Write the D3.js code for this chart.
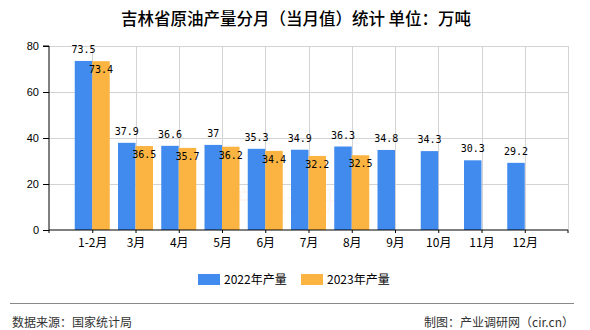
<!DOCTYPE html>
<html><head><meta charset="utf-8">
<script src="https://cdn.jsdelivr.net/npm/d3@7"></script>
<style>body{margin:0;background:#fff}svg{display:block}</style>
</head><body>
<script>
const categories = ["1-2月","3月","4月","5月","6月","7月","8月","9月","10月","11月","12月"];
const values2022 = [73.5,37.9,36.6,37,35.3,34.9,36.3,34.8,34.3,30.3,29.2];
const values2023 = [73.4,36.5,35.7,36.2,34.4,32.2,32.5,null,null,null,null];
const seriesNames = ["2022年产量","2023年产量"];
const yTicks = [0,20,40,60,80];
const colors = ["#418BEF","#FBB342"];

const W=590,H=330;
const svg=d3.select("body").append("svg").attr("width",W).attr("height",H);
const L=49,R=568,T=46,B=230;
const x=d3.scalePoint().domain(categories).range([L,R]).padding(1);
const y=d3.scaleLinear().domain([0,80]).range([B,T]);
const bw=17.5;
const cjk="'Noto Sans CJK SC','Noto Sans',sans-serif";
const mono="'DejaVu Sans Mono','Liberation Mono',monospace";

// title
svg.append("text").attr("x",296).attr("y",25).attr("text-anchor","middle")
  .attr("font-family",cjk).attr("font-size",16.5).attr("font-weight",500).attr("fill","#000")
  .text("吉林省原油产量分月（当月值）统计 单位：万吨");

// watermark
svg.append("text").attr("x",300).attr("y",212).attr("text-anchor","middle")
  .attr("font-family",cjk).attr("font-size",28).attr("fill","#f3a070").attr("opacity",0.07)
  .text("产业调研网");

// grid
const g=svg.append("g");
g.selectAll(".hg").data(yTicks.filter(d=>d>0)).join("line")
  .attr("x1",L).attr("x2",R).attr("y1",d=>y(d)).attr("y2",d=>y(d))
  .attr("stroke","#d3d3d3").attr("stroke-width",1).attr("shape-rendering","crispEdges");
g.selectAll(".vg").data(categories).join("line")
  .attr("x1",d=>Math.round(x(d))+0.5).attr("x2",d=>Math.round(x(d))+0.5).attr("y1",T).attr("y2",B)
  .attr("stroke","#d3d3d3").attr("stroke-width",1);
g.append("line").attr("x1",R+0.5).attr("x2",R+0.5).attr("y1",T).attr("y2",B)
  .attr("stroke","#d3d3d3");

// bars
const series=[values2022,values2023];
series.forEach((vals,si)=>{
  const data=categories.map((c,i)=>({c,v:vals[i]})).filter(d=>d.v!=null);
  svg.append("g").selectAll("rect").data(data).join("rect")
    .attr("x",d=>x(d.c)+(si===0?-bw:0)).attr("width",bw)
    .attr("y",d=>y(d.v)).attr("height",d=>B-y(d.v))
    .attr("fill",colors[si]);
});

// y axis
const ya=svg.append("g").attr("transform",`translate(${L},0)`)
  .call(d3.axisLeft(y).tickValues(yTicks).tickSize(6).tickPadding(4));
ya.selectAll("text").attr("font-family","'Liberation Sans',Arial,sans-serif").attr("font-size",11).attr("fill","#000");
ya.selectAll("line,path").attr("stroke","#000");
ya.select(".domain").attr("d",`M-6,${T}H0V${B}`);

// x axis
const xa=svg.append("g").attr("transform",`translate(0,${B})`)
  .call(d3.axisBottom(x).tickSize(3).tickPadding(5));
xa.select(".domain").attr("d",`M${L},3V0H${R}V3`).attr("stroke","#000");
xa.selectAll("line").attr("stroke","#000");
xa.selectAll("text").attr("font-family",cjk).attr("font-size",12).attr("fill","#000");

// labels
svg.append("g").selectAll("text").data(categories.map((c,i)=>({c,v:values2022[i]})))
  .join("text").attr("x",d=>x(d.c)-bw/2).attr("y",d=>y(d.v)-8)
  .attr("text-anchor","middle").attr("font-family",mono).attr("font-size",10).attr("fill","#000")
  .text(d=>d.v);
svg.append("g").selectAll("text").data(categories.map((c,i)=>({c,v:values2023[i]})).filter(d=>d.v!=null))
  .join("text").attr("x",d=>x(d.c)+bw/2).attr("y",d=>y(d.v)+12)
  .attr("text-anchor","middle").attr("font-family",mono).attr("font-size",10).attr("fill","#000")
  .text(d=>d.v);

// legend
const lx=[198,301];
seriesNames.forEach((n,i)=>{
  svg.append("rect").attr("x",lx[i]).attr("y",274).attr("width",22).attr("height",11).attr("fill",colors[i]);
  svg.append("text").attr("x",lx[i]+26).attr("y",284).attr("font-family",cjk).attr("font-size",12)
    .attr("fill","#000").text(n);
});

// footer
svg.append("line").attr("x1",10).attr("x2",574).attr("y1",303.5).attr("y2",303.5).attr("stroke","#888");
svg.append("text").attr("x",12).attr("y",327).attr("font-family",cjk).attr("font-size",12).attr("fill","#333")
  .text("数据来源：国家统计局");
svg.append("text").attr("x",574).attr("y",327).attr("text-anchor","end").attr("font-family",cjk).attr("font-size",12).attr("fill","#333")
  .text("制图：产业调研网（cir.cn）");
</script>
</body></html>
